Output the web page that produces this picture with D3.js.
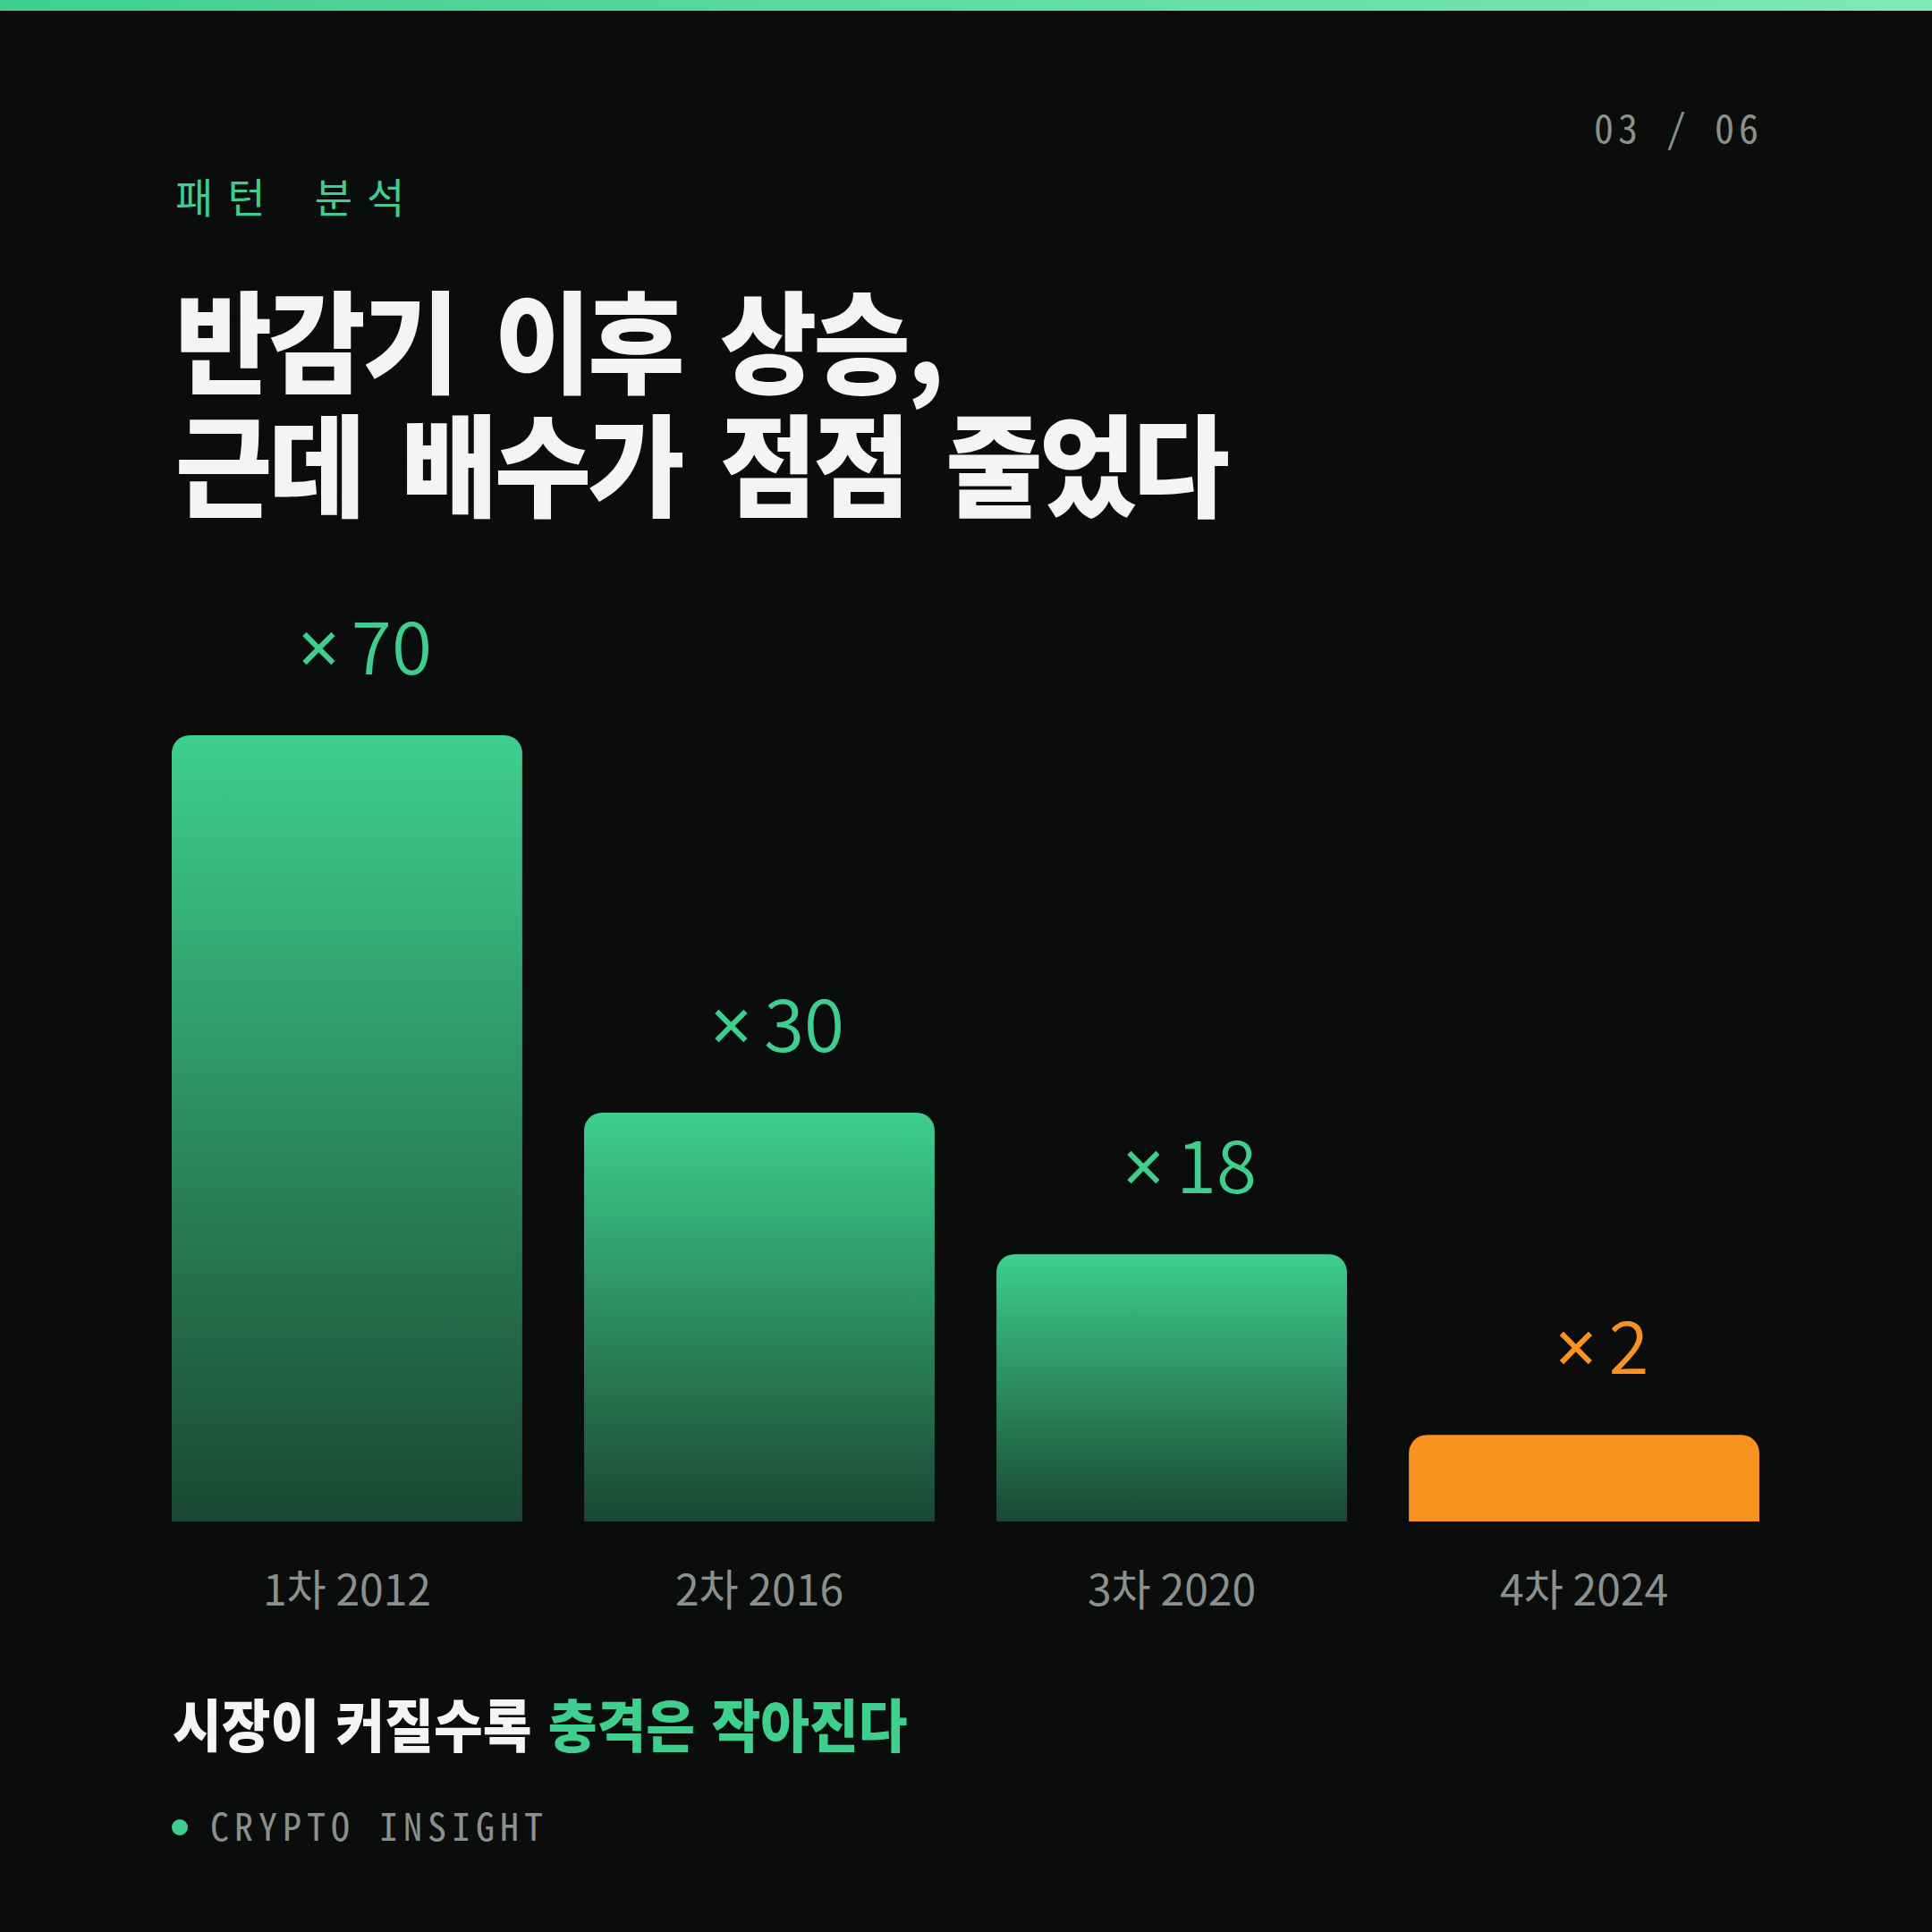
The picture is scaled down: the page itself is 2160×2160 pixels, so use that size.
<!DOCTYPE html>
<html>
<head>
<meta charset="utf-8">
<script src="https://cdn.jsdelivr.net/npm/d3@7"></script>
<style>
  html, body { margin: 0; padding: 0; background: #0a0d0c; }
  #chart { width: 2160px; height: 2160px; }
</style>
</head>
<body>
<div id="chart"></div>
<script>
/* Halving cycles: price multiple after each halving */

const halvings = ["1차 2012", "2차 2016", "3차 2020", "4차 2024"];
const multiples = [70, 30, 18, 2];
// bar height as % of the tallest bar (not linear in the multiple)
const barShare = [100, 52, 34, 11];

const eyebrow = "패턴 분석",
      pageNo = "03 / 06",
      titleLines = ["반감기 이후 상승,", "근데 배수가 점점 줄었다"],
      footWhite = "시장이 커질수록 ",
      footGreen = "충격은 작아진다",
      brand = "CRYPTO INSIGHT";

const width = 2160,
      height = 2160,
      margin = ({ top: 822, right: 193, bottom: 459, left: 192 });

const green = "#3ecf8e",
      orange = "#f7931e",
      grey = "#8a918c",
      kr = "'Noto Sans CJK KR', 'Noto Sans', sans-serif",
      mono = "'Noto Sans Mono CJK KR', 'Noto Sans CJK KR', monospace";

let svg = d3.select("#chart")
    .append("svg")
    .attr("width", width)
    .attr("height", height)
    .attr("viewBox", [0, 0, width, height]);

let defs = svg.append("defs");

let topGrad = defs.append("linearGradient")
    .attr("id", "topbar")
    .attr("x1", 0).attr("x2", 1).attr("y1", 0).attr("y2", 0);
topGrad.append("stop").attr("offset", 0).attr("stop-color", "#3ecf8e");
topGrad.append("stop").attr("offset", 1).attr("stop-color", "#7ee8b9");

let barGrad = defs.append("linearGradient")
    .attr("id", "bargrad")
    .attr("x1", 0).attr("x2", 0).attr("y1", 0).attr("y2", 1);
barGrad.append("stop").attr("offset", 0).attr("stop-color", green).attr("stop-opacity", 1);
barGrad.append("stop").attr("offset", 1).attr("stop-color", green).attr("stop-opacity", 0.3);

// background + accent strip
svg.append("rect")
    .attr("width", width).attr("height", height)
    .attr("fill", "#0a0d0c");

svg.append("rect")
    .attr("width", width).attr("height", 12)
    .attr("fill", "url(#topbar)");

// header texts
svg.append("text")
    .attr("x", 1966 + 5)
    .attr("y", 160)
    .attr("text-anchor", "end")
    .style("font-family", mono)
    .style("font-size", "44px")
    .style("letter-spacing", "5px")
    .style("fill", grey)
    .text(pageNo);

svg.append("text")
    .attr("x", 196)
    .attr("y", 238)
    .style("font-family", mono)
    .style("font-size", "46px")
    .style("letter-spacing", "16px")
    .style("fill", green)
    .text(eyebrow);

// headline, a bit condensed like the reference face
svg.append("g")
    .attr("transform", "translate(196,0) scale(0.95,1)")
    .selectAll("text")
    .data(titleLines)
    .join("text")
    .attr("x", 0)
    .attr("y", (d, i) => 430 + i * 138)
    .style("font-family", kr)
    .style("font-weight", 900)
    .style("font-size", "124px")
    .style("letter-spacing", "-4px")
    .style("word-spacing", "21px")
    .style("fill", "#f3f5f4")
    .text(d => d);

// scales
let x = d3.scaleBand()
    .domain(halvings)
    .range([margin.left, width - margin.right])
    .paddingInner(0.15)
    .paddingOuter(0);

let y = d3.scaleLinear()
    .domain([0, 100])
    .range([height - margin.bottom, margin.top]);

const radius = 20;

// rounded top corners, square bottom
function barPath(x0, y0, w, h) {
    let p = d3.path();
    p.moveTo(x0, y0 + h);
    p.lineTo(x0, y0 + radius);
    p.arcTo(x0, y0, x0 + radius, y0, radius);
    p.lineTo(x0 + w - radius, y0);
    p.arcTo(x0 + w, y0, x0 + w, y0 + radius, radius);
    p.lineTo(x0 + w, y0 + h);
    p.closePath();
    return p.toString();
}

let data = halvings.map((h, i) => ({ name: h, mult: multiples[i], share: barShare[i], last: i === halvings.length - 1 }));

let bar = svg.selectAll(".bar")
    .data(data)
    .join("g")
    .attr("class", "bar");

bar.append("path")
    .attr("d", d => barPath(x(d.name), y(d.share), x.bandwidth(), y(0) - y(d.share)))
    .attr("fill", d => d.last ? orange : "url(#bargrad)");

let label = bar.append("text") // value labels
    .attr("x", d => x(d.name) + x.bandwidth() / 2 + 20)
    .attr("y", d => y(d.share) - 68)
    .attr("text-anchor", "middle")
    .style("font-size", "82px")
    .style("fill", d => d.last ? orange : green);

label.append("tspan")
    .style("font-family", "'Noto Sans', sans-serif")
    .style("font-weight", 400)
    .text("×");

label.append("tspan")
    .attr("dx", 13)
    .style("font-family", kr)
    .style("font-weight", 350)
    .text(d => d.mult);

// category axis, no line or ticks
let xAxis = svg.append("g")
    .attr("transform", `translate(0,${height - margin.bottom})`)
    .call(d3.axisBottom(x).tickSize(0).tickPadding(60));

xAxis.select(".domain").remove();
xAxis.selectAll("text")
    .style("font-family", kr)
    .style("font-size", "48px")
    .style("fill", grey);

// footer
let foot = svg.append("text")
    .attr("transform", "translate(193,0) scale(0.93,1)")
    .attr("x", 0)
    .attr("y", 1953)
    .style("font-family", kr)
    .style("font-weight", 900)
    .style("font-size", "64px")
    .style("letter-spacing", "0px")
    .style("word-spacing", "5px");

foot.append("tspan").style("fill", "#f3f5f4").text(footWhite);
foot.append("tspan").style("fill", green).text(footGreen);

svg.append("circle")
    .attr("cx", 201)
    .attr("cy", 2043)
    .attr("r", 9)
    .attr("fill", green);

svg.append("text")
    .attr("x", 235)
    .attr("y", 2058)
    .style("font-family", mono)
    .style("font-size", "42px")
    .style("letter-spacing", "6px")
    .style("fill", grey)
    .text(brand);
</script>
</body>
</html>
